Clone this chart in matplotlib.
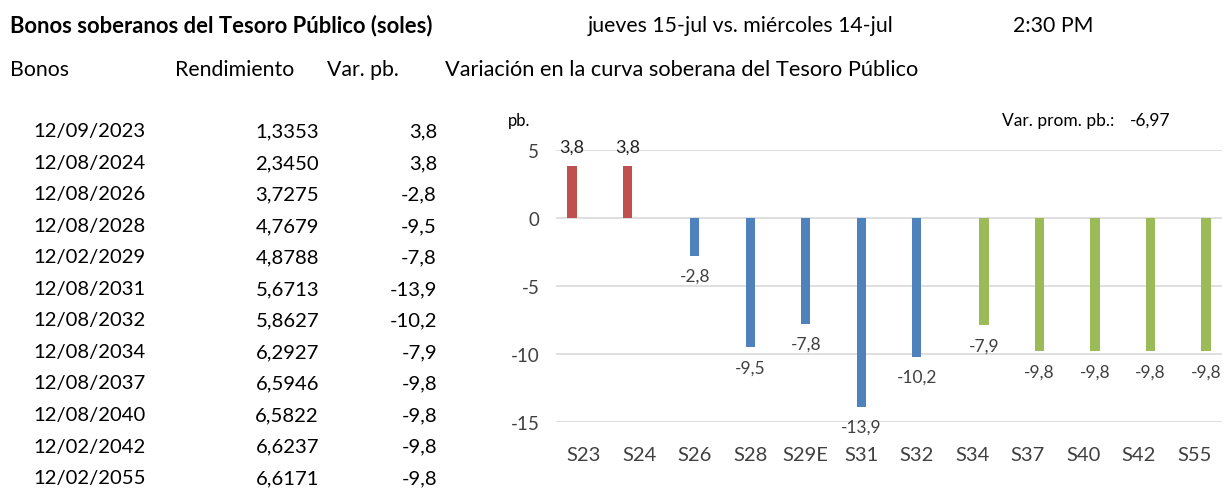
import matplotlib
matplotlib.use("Agg")
import matplotlib.pyplot as plt
import numpy as np

plt.rcParams['font.family'] = ['Lato', 'DejaVu Sans']

# data
fechas = ['12/09/2023', '12/08/2024', '12/08/2026', '12/08/2028', '12/02/2029', '12/08/2031',
          '12/08/2032', '12/08/2034', '12/08/2037', '12/08/2040', '12/02/2042', '12/02/2055']
rendimiento = ['1,3353', '2,3450', '3,7275', '4,7679', '4,8788', '5,6713',
               '5,8627', '6,2927', '6,5946', '6,5822', '6,6237', '6,6171']
bonos = ['S23', 'S24', 'S26', 'S28', 'S29E', 'S31', 'S32', 'S34', 'S37', 'S40', 'S42', 'S55']
var_pb = [3.8, 3.8, -2.8, -9.5, -7.8, -13.9, -10.2, -7.9, -9.8, -9.8, -9.8, -9.8]
grupo = ['r', 'r', 'b', 'b', 'b', 'b', 'b', 'g', 'g', 'g', 'g', 'g']
var_prom = '-6,97'

colores = {'r': '#C0504D', 'b': '#4F81BD', 'g': '#9BBB59'}
# clustered series offsets (one excel series per colour)
desplaz = {'r': -0.215, 'b': 0.0, 'g': 0.215}

W, H = 1224, 489
fig = plt.figure(figsize=(W / 100, H / 100), dpi=100)

def px(x, y):
    return x / W, 1 - y / H

def fmt(v):
    return ('%.1f' % v).replace('.', ',')

fs_head = 15.3
fs_tab = 14.6

# header texts
fig.text(*px(10, 26), 'Bonos soberanos del Tesoro Público (soles)', fontsize=15.8,
         fontweight='bold', va='center', ha='left')
fig.text(*px(588, 26), 'jueves 15-jul vs. miércoles 14-jul', fontsize=fs_head, va='center', ha='left')
fig.text(*px(1013, 26), '2:30 PM', fontsize=fs_head, va='center', ha='left')
fig.text(*px(10, 70), 'Bonos', fontsize=fs_head, va='center', ha='left')
fig.text(*px(175, 70), 'Rendimiento', fontsize=fs_head, va='center', ha='left')
fig.text(*px(327, 70), 'Var. pb.', fontsize=fs_head, va='center', ha='left')
fig.text(*px(445, 70), 'Variación en la curva soberana del Tesoro Público', fontsize=15.7,
         va='center', ha='left')

# table
for i in range(len(fechas)):
    y = 132 + i * 31.5
    fig.text(*px(33, y), fechas[i], fontsize=fs_tab, va='center', ha='left')
    fig.text(*px(319, y), rendimiento[i], fontsize=fs_tab, va='center', ha='right')
    fig.text(*px(437, y), fmt(var_pb[i]), fontsize=fs_tab, va='center', ha='right')

# chart
ax = fig.add_axes([556 / W, 1 - 423 / H, 666 / W, 272 / H])
x = np.arange(len(bonos))
xb = x + np.array([desplaz[g] for g in grupo])
ax.bar(xb, var_pb, width=0.17, color=[colores[g] for g in grupo], zorder=3)
ax.set_xlim(-0.5, len(bonos) - 0.5)
ax.set_ylim(-15, 5)
ax.set_yticks([5, 0, -5, -10, -15])
ax.set_yticklabels(['5', '0', '-5', '-10', '-15'])
ax.set_xticks(x)
ax.set_xticklabels(bonos)
ax.tick_params(axis='both', length=0, colors='#404040')
ax.tick_params(axis='y', pad=12, labelsize=13.5)
ax.tick_params(axis='x', pad=17, labelsize=14.5)
ax.grid(axis='y', color='#D9D9D9', linewidth=1.2, zorder=0)
for s in ax.spines.values():
    s.set_visible(False)

for xi, v in zip(xb, var_pb):
    if v >= 0:
        ax.annotate(fmt(v), (xi, v), xytext=(0, 12), textcoords='offset pixels',
                    ha='center', va='bottom', fontsize=13, color='#222222')
    else:
        ax.annotate(fmt(v), (xi, v), xytext=(0, -12), textcoords='offset pixels',
                    ha='center', va='top', fontsize=12.5, color='#404040')

fig.text(*px(508, 121), 'pb.', fontsize=12, va='center', ha='left')
fig.text(*px(1002, 121), 'Var. prom. pb.:', fontsize=12.5, va='center', ha='left')
fig.text(*px(1130, 121), var_prom, fontsize=12.5, va='center', ha='left')

fig.savefig('out.png', dpi=100, facecolor='white')
